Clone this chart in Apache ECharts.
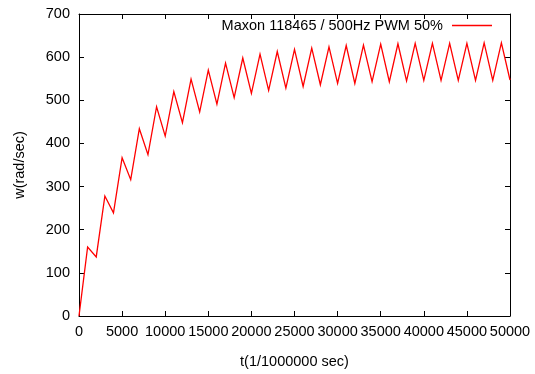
<!DOCTYPE html>
<html>
<head>
<meta charset="utf-8">
<script src="https://cdn.jsdelivr.net/npm/echarts@6/dist/echarts.min.js"></script>
<style>html,body{margin:0;padding:0;background:#fff;}#c{width:535px;height:374px;}</style>
</head>
<body>
<div id="c"></div>
<script>
var seriesName = 'Maxon 118465 / 500Hz PWM 50%';
var tValues = [0,1000,2000,3000,4000,5000,6000,7000,8000,9000,10000,11000,12000,13000,14000,15000,16000,17000,18000,19000,20000,21000,22000,23000,24000,25000,26000,27000,28000,29000,30000,31000,32000,33000,34000,35000,36000,37000,38000,39000,40000,41000,42000,43000,44000,45000,46000,47000,48000,49000,50000];
var wValues = [0,160,137,278,239,367,316,434,374,485,417,520,448,549,473,570,491,586,506,598,516,607,523,613,528,618,532,621,536,624,539,627,539,628,543,630,543,631,545,632,546,632,546,632,546,632,546,633,546,633,547];
var xTicks = [0,5000,10000,15000,20000,25000,30000,35000,40000,45000,50000];
var yTicks = [0,100,200,300,400,500,600,700];

var data = tValues.map(function(t,i){return [t, wValues[i]];});
var font = 'Liberation Sans';
var fs = 14.5;
var chart = echarts.init(document.getElementById('c'), null, {renderer:'canvas'});
var axisLineStyle = {color:'#000', width:1};
chart.setOption({
  animation:false,
  backgroundColor:'#fff',
  grid:{left:79, right:25, top:14, bottom:50, containLabel:false},
  legend:{
    show:true, right:43, top:18, padding:0, align:'right', itemWidth:40, itemHeight:2, itemGap:10,
    formatter:function(n){return n + ' ';},
    textStyle:{fontFamily:font, fontSize:fs, color:'#000'},
    data:[{name:seriesName, icon:'path://M0,0 L40,0 L40,1.3 L0,1.3 Z', itemStyle:{color:'#ff0000'}}]
  },
  xAxis:[{
    type:'value', min:xTicks[0], max:xTicks[xTicks.length-1], interval:5000,
    name:'t(1/1000000 sec)', nameLocation:'middle', nameGap:38,
    nameTextStyle:{fontFamily:font, fontSize:fs, color:'#000'},
    axisLine:{show:true, onZero:false, lineStyle:axisLineStyle},
    axisTick:{show:true, inside:true, length:5, lineStyle:axisLineStyle},
    axisLabel:{fontFamily:font, fontSize:fs, color:'#000', margin:8, formatter:function(v){return String(v);}},
    splitLine:{show:false}
  },{
    type:'value', position:'top', min:xTicks[0], max:xTicks[xTicks.length-1], interval:5000,
    axisLine:{show:true, onZero:false, lineStyle:axisLineStyle},
    axisTick:{show:true, inside:true, length:5, lineStyle:axisLineStyle},
    axisLabel:{show:false}, splitLine:{show:false}
  }],
  yAxis:[{
    type:'value', min:yTicks[0], max:yTicks[yTicks.length-1], interval:100,
    name:'w(rad/sec)', nameLocation:'middle', nameGap:52, nameRotate:90,
    nameTextStyle:{fontFamily:font, fontSize:fs, color:'#000'},
    axisLine:{show:true, onZero:false, lineStyle:axisLineStyle},
    axisTick:{show:true, inside:true, length:5, lineStyle:axisLineStyle},
    axisLabel:{fontFamily:font, fontSize:fs, color:'#000', margin:9, formatter:function(v){return String(v);}},
    splitLine:{show:false}
  },{
    type:'value', position:'right', min:yTicks[0], max:yTicks[yTicks.length-1], interval:100,
    axisLine:{show:true, onZero:false, lineStyle:axisLineStyle},
    axisTick:{show:true, inside:true, length:5, lineStyle:axisLineStyle},
    axisLabel:{show:false}, splitLine:{show:false}
  }],
  series:[{
    name:seriesName, type:'line', data:data, symbol:'none', showSymbol:false,
    lineStyle:{color:'#ff0000', width:1.3, join:'miter'},
    itemStyle:{color:'#ff0000'},
    clip:true
  }]
});
</script>
</body>
</html>
